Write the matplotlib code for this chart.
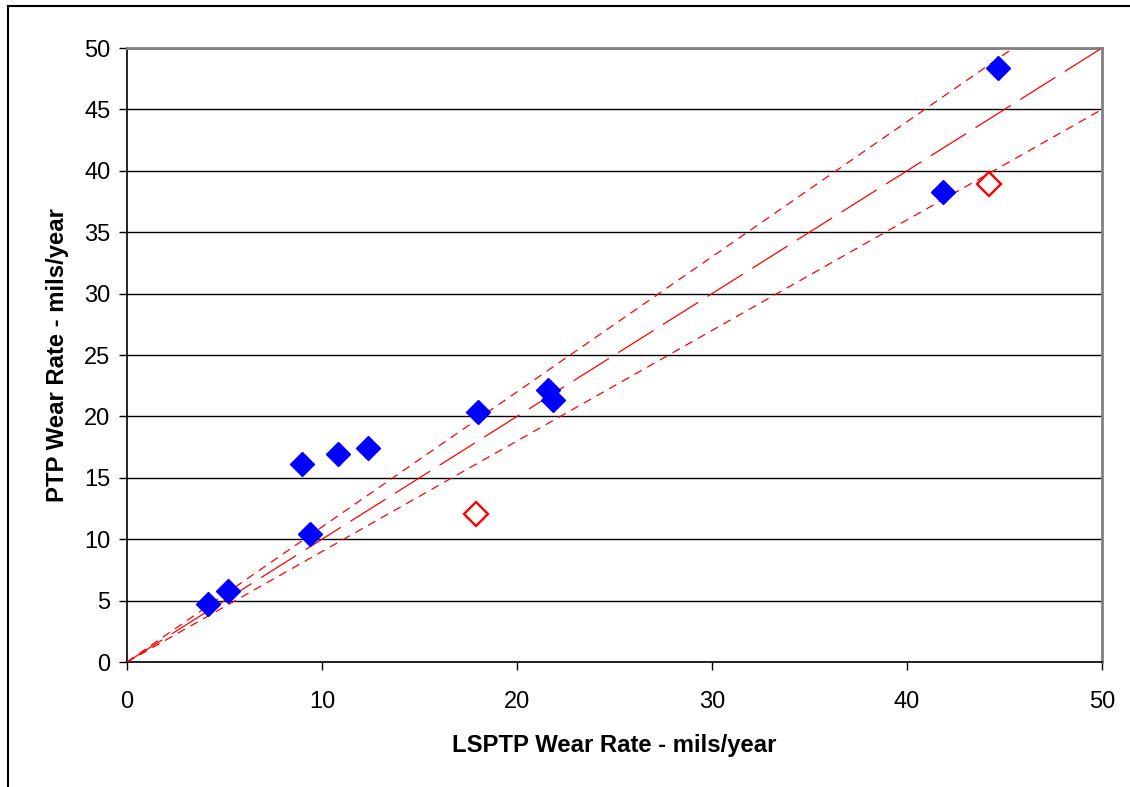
import matplotlib
matplotlib.use('Agg')
import matplotlib.pyplot as plt
from matplotlib.lines import Line2D

plt.rcParams['font.family'] = ['Liberation Sans', 'DejaVu Sans']
plt.rcParams['lines.scale_dashes'] = False

# measured points (LSPTP, PTP)
lsptp_blue = [4.14, 5.16, 8.96, 9.38, 10.8, 12.34, 17.98, 21.57, 21.86, 41.86, 44.65]
ptp_blue = [4.70, 5.81, 16.1, 10.4, 16.9, 17.4, 20.33, 22.15, 21.3, 38.25, 48.35]

# outliers (open red diamonds)
lsptp_red = [17.9, 44.22]
ptp_red = [12.05, 38.9]

# reference lines: y = x and +/- 10 %
line_x = [0, 50]
ratio_mid = 1.0
ratio_band = [1.1, 0.9]

fig = plt.figure(figsize=(11.3, 7.87), dpi=100)
ax = fig.add_axes([0.1124, 0.1588, 0.8628, 0.7802])

# reference lines
ax.plot(line_x, [v * ratio_mid for v in line_x], color='red', lw=0.9,
        dashes=(30, 8), zorder=3)
for r in ratio_band:
    ax.plot(line_x, [v * r for v in line_x], color='red', lw=0.9,
            dashes=(6, 4.5), zorder=3)

ax.plot(lsptp_blue, ptp_blue, linestyle='none', marker='D', markersize=12,
        color='#0000FF', markeredgecolor='#0000FF', zorder=4)
ax.plot(lsptp_red, ptp_red, linestyle='none', marker='D', markersize=12.5,
        markerfacecolor='white', markeredgecolor='red', markeredgewidth=1.7,
        zorder=4)

ax.set_xlim(0, 50)
ax.set_ylim(0, 50)
ax.set_xticks(range(0, 51, 10))
ax.set_yticks(range(0, 51, 5))
ax.yaxis.grid(True, color='black', lw=1.0)
ax.set_axisbelow(True)

for s in ['top', 'right']:
    ax.spines[s].set_color('#808080')
    ax.spines[s].set_linewidth(2)
for s in ['left', 'bottom']:
    ax.spines[s].set_color('black')
    ax.spines[s].set_linewidth(1.2)

ax.tick_params(direction='out', length=6, width=1, labelsize=17, pad=6)
ax.tick_params(axis='x', pad=15)

ax.set_xlabel('LSPTP Wear Rate - mils/year', fontsize=17.2, fontweight='bold',
              labelpad=15)
ax.set_ylabel('PTP Wear Rate - mils/year', fontsize=17.2, fontweight='bold',
              labelpad=11)

# outer frame lines (top and left)
fig.add_artist(Line2D([8 / 1130, 1], [1 - 6 / 787, 1 - 6 / 787],
                      color='black', lw=1.5, transform=fig.transFigure))
fig.add_artist(Line2D([8 / 1130, 8 / 1130], [0, 1 - 6 / 787],
                      color='black', lw=1.5, transform=fig.transFigure))

fig.savefig('out.png', dpi=100)
